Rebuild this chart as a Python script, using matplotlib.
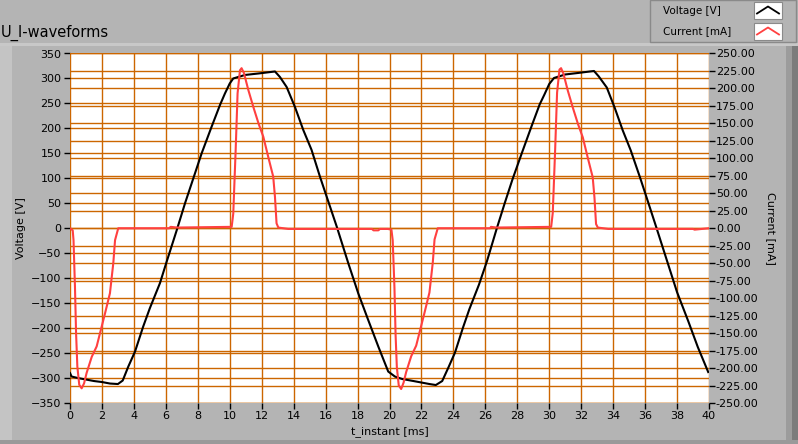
import matplotlib
matplotlib.use("Agg")
import matplotlib.pyplot as plt
from matplotlib.patches import Rectangle
from matplotlib.ticker import FixedLocator, FuncFormatter

# ---------------- data ----------------
volt_t = [0.0, 0.1, 0.5, 1.0, 1.5, 2.0, 2.5, 3.0, 3.3, 3.65, 4.07, 4.58, 5.0, 5.63,
          6.05, 6.68, 7.2, 7.72, 8.24, 8.86, 9.39, 9.7, 10.0, 10.22, 10.95, 11.8,
          12.83, 13.14, 13.56, 14.08, 14.6, 15.12, 15.65, 16.07, 16.7, 17.42, 18.04,
          18.67, 19.3, 19.92, 20.34, 20.8, 21.5, 22.0, 22.5, 22.9, 23.3, 23.7, 24.1,
          24.6, 25.0, 25.6, 26.1, 26.7, 27.2, 27.7, 28.3, 28.9, 29.4, 29.7, 30.0,
          30.3, 31.0, 31.8, 32.8, 33.1, 33.6, 34.1, 34.6, 35.1, 35.7, 36.1, 36.7,
          37.4, 38.0, 38.7, 39.3, 39.95]
volt_v = [-290, -297, -300, -303, -306, -308, -311, -312, -305, -277, -247, -197, -160,
          -110, -67, -4, 50, 100, 150, 203, 247, 270, 290, 300, 307, 310, 314, 303, 283,
          243, 197, 157, 103, 63, 3, -70, -130, -184, -237, -287, -297, -302, -306,
          -309, -312, -314, -306, -278, -249, -199, -162, -113, -66, -2, 49, 98, 152,
          205, 248, 268, 289, 301, 308, 311, 315, 304, 282, 241, 196, 156, 100, 61, 2,
          -68, -128, -186, -238, -288]

curr_t = [0.0, 0.17, 0.22, 0.31, 0.38, 0.46, 0.58, 0.73, 0.88, 1.04, 1.36, 1.67, 1.88,
          2.19, 2.5, 2.71, 2.82, 3.02, 6.2, 6.3, 6.7, 10.12, 10.22, 10.37, 10.49, 10.64,
          10.74, 10.89, 11.16, 11.47, 11.8, 12.1, 12.41, 12.72, 12.83, 12.93, 13.04,
          13.66, 18.9, 19.0, 19.3, 19.4, 19.9, 20.12, 20.2, 20.31, 20.38, 20.46, 20.58,
          20.73, 20.88, 21.04, 21.36, 21.67, 21.88, 22.19, 22.5, 22.71, 22.82, 23.02,
          26.3, 26.35, 26.7, 30.12, 30.22, 30.37, 30.49, 30.64, 30.74, 30.89, 31.16,
          31.47, 31.8, 32.1, 32.41, 32.72, 32.83, 32.93, 33.04, 33.7, 39.0, 39.1, 40.0]
curr_i = [0, -3, -17, -83, -150, -198, -224, -229, -222, -207, -184, -169, -150, -122,
          -93, -50, -17, 0, 0, 2, 1, 2, 21, 112, 193, 226, 229, 222, 198, 174, 150, 131,
          102, 74, 45, 7, 1, -1, -1, -3, -3, -1, -1, -2, -17, -85, -152, -199, -225,
          -230, -221, -206, -183, -168, -149, -121, -92, -49, -16, 0, 0, 2, 1, 2, 22,
          113, 194, 227, 229, 221, 197, 173, 149, 130, 101, 73, 44, 6, 1, -1, -1, -2, 0]

x_ticks = list(range(0, 41, 2))
volt_ticks = list(range(-350, 351, 50))
curr_ticks = list(range(-250, 251, 25))

# ---------------- figure ----------------
BG = "#b4b4b4"
GRID = "#cc6600"
W, H = 798, 444
fig = plt.figure(figsize=(W / 100, H / 100), dpi=100, facecolor=BG)

def px_rect(x0, y0, x1, y1, **kw):
    fig.patches.append(Rectangle((x0 / W, 1 - y1 / H), (x1 - x0) / W, (y1 - y0) / H,
                                 transform=fig.transFigure, **kw))

# panel decoration
px_rect(0, 43, 798, 46, facecolor="#c8c8c8", edgecolor="none")
px_rect(0, 46, 12, 440, facecolor="#c4c4c4", edgecolor="none")
px_rect(0, 440, 798, 444, facecolor="#9a9a9a", edgecolor="none")
px_rect(786, 46, 792, 440, facecolor="#9c9c9c", edgecolor="none")
px_rect(792, 46, 798, 440, facecolor="#7c7c7c", edgecolor="none")
# legend box
px_rect(650, 0, 796, 42, facecolor=BG, edgecolor="#8a8a8a", linewidth=1.0)
px_rect(754, 2, 782, 19, facecolor="white", edgecolor="#8a8a8a", linewidth=0.8)
px_rect(754, 23, 782, 40, facecolor="white", edgecolor="#8a8a8a", linewidth=0.8)

l, r, t, b = 70, 709, 53.5, 403
ax = fig.add_axes([l / W, 1 - b / H, (r - l) / W, (b - t) / H])
ax.set_facecolor("white")
ax.set_xlim(0, 40)
ax.set_ylim(-350, 350)
ax.xaxis.set_major_locator(FixedLocator(x_ticks))
ax.yaxis.set_major_locator(FixedLocator(volt_ticks))
ax.grid(True, color=GRID, linewidth=1.0)
ax.set_axisbelow(True)
for s in ax.spines.values():
    s.set_visible(False)
ax.tick_params(axis="both", direction="out", length=4, width=1, colors="black",
               labelsize=8, pad=2)
ax.set_xlabel("t_instant [ms]", fontsize=8)
ax.xaxis.set_label_coords(0.5, -0.065)
ax.set_ylabel("Voltage [V]", fontsize=8, labelpad=4)

ax2 = ax.twinx()
ax2.set_ylim(-250, 250)
ax2.yaxis.set_major_locator(FixedLocator(curr_ticks))
ax2.yaxis.set_major_formatter(FuncFormatter(lambda v, p: f"{v:.2f}"))
ax2.grid(True, axis="y", color=GRID, linewidth=1.0)
for s in ax2.spines.values():
    s.set_visible(False)
ax2.tick_params(axis="y", direction="out", length=4, width=1, labelsize=8, pad=1)
ax2.set_ylabel("Current [mA]", fontsize=8, rotation=270, labelpad=12)

ax2.plot(volt_t, volt_v, color="black", linewidth=1.5, transform=ax.transData,
         solid_joinstyle="round")
ax2.plot(curr_t, curr_i, color="#ff4040", linewidth=1.5, solid_joinstyle="round")
ax2.set_ylim(-250, 250)
ax2.set_xlim(0, 40)

# title
fig.text(1 / W, 1 - 33 / H, "U_I-waveforms", fontsize=10.5, va="center", ha="left")

# legend texts and swatches
fig.text(663 / W, 1 - 11 / H, "Voltage [V]", fontsize=7.5, va="center", ha="left")
fig.text(663 / W, 1 - 31 / H, "Current [mA]", fontsize=7.5, va="center", ha="left")
for y0, col in ((10.5, "black"), (31.5, "#ff4040")):
    fig.lines.append(plt.Line2D([757 / W, 768 / W, 779 / W],
                                [1 - (y0 + 3) / H, 1 - (y0 - 4) / H, 1 - (y0 + 3) / H],
                                transform=fig.transFigure, color=col, linewidth=1.3))

fig.savefig("out.png", dpi=100, facecolor=BG)
